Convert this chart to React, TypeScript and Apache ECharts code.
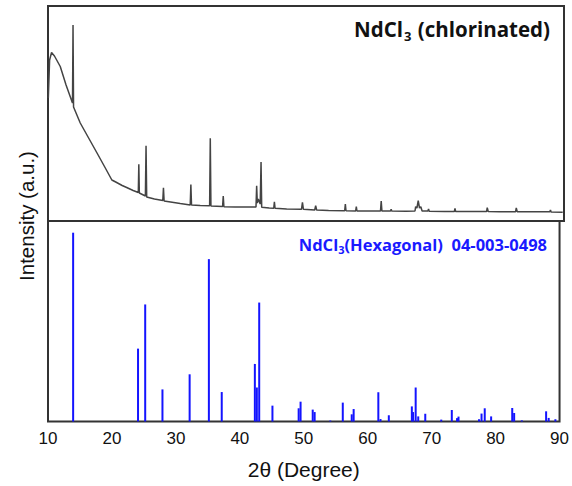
import React, { useEffect, useRef } from "react";
import * as echarts from "echarts";

// Measured XRD pattern of chlorinated NdCl3: [2θ (deg), intensity (a.u.)]
const measuredTheta: number[] = [
  10.05, 10.25, 10.55, 11.0, 11.9, 12.8, 13.8, 13.88, 13.96, 15.0, 16.3, 17.6, 18.8, 19.9,
  20.5, 21.5, 22.2, 23.2, 24.0, 24.08, 24.16, 25.1, 25.2, 25.3, 26.5, 27.8, 27.9, 28.0,
  29.5, 30.5, 32.05, 32.15, 32.25, 33.6, 35.06, 35.16, 35.26, 37.07, 37.17, 37.27, 39.0,
  40.5, 42.25, 42.35, 42.45, 42.6, 42.9, 43.03, 43.13, 44.3, 45.0, 45.1, 45.2, 47.0, 49.3,
  49.45, 49.6, 51.35, 51.5, 51.65, 53.5, 56.0, 56.1, 56.2, 57.7, 57.8, 57.9, 59.5, 61.55,
  61.66, 61.77, 63.1, 63.2, 63.3, 65.5, 66.9, 67.0, 67.2, 67.4, 67.6, 67.8, 68.0, 68.9,
  69.0, 69.1, 71.5, 73.0, 73.1, 73.2, 75.0, 78.0, 78.1, 78.25, 80.0, 82.5, 82.6, 82.75,
  85.0, 87.8, 87.9, 88.0, 89.8,
];
const measuredIntensity: number[] = [
  123, 161, 168.5, 165, 154.5, 136, 118, 196, 114, 98, 83, 68, 54, 41,
  39, 35.5, 33.5, 30.5, 28.5, 56.7, 28, 25, 75.3, 24, 22, 20.5, 33.3, 20,
  18.5, 17.5, 16, 36.5, 16, 15.5, 15.3, 82.7, 15, 14.5, 25, 14.3, 14,
  14, 14, 35.3, 18, 22, 17, 59, 13.7, 13, 12.7, 19.3, 12.7, 12, 11.7,
  18.7, 11.7, 11, 15.3, 11, 10.5, 10.3, 17, 10.3, 10, 14.3, 10, 10, 10,
  20, 10, 10, 11.7, 10, 9.8, 10, 14.3, 13, 20.3, 13, 14.3, 10, 10,
  12, 9.8, 9.5, 9.5, 12.7, 9.5, 9.5, 9.5, 13.3, 9.5, 9.3, 9.3, 13, 9.3,
  9.2, 9.2, 11, 9, 8.7,
];

// Reference pattern NdCl3 (Hexagonal) 04-003-0498: [2θ (deg), relative intensity]
const refTheta: number[] = [
  13.93, 24.08, 25.2, 27.9, 32.15, 35.16, 37.17, 42.35, 42.66, 43.03, 45.1, 49.2, 49.5,
  51.4, 51.7, 54.15, 56.1, 57.5, 57.8, 61.66, 62.0, 63.3, 66.9, 67.1, 67.5, 67.9, 69.0,
  71.5, 73.15, 73.97, 74.2, 77.4, 77.8, 78.3, 79.3, 82.6, 82.9, 84.1, 87.9, 88.3, 89.35,
];
const refIntensity: number[] = [
  100, 38.6, 62, 17, 25, 86, 15.6, 30.5, 18, 63, 8.4, 7, 10.5,
  6.3, 5, 0.5, 10, 3.8, 6.6, 15.5, 1.3, 3.3, 8, 5, 18, 2.7, 4.1,
  1, 6.1, 1.8, 2.6, 1.2, 4.2, 7, 2.7, 7.2, 4.5, 0.6, 5.4, 1.9, 1.2,
];

const xTicks: number[] = [10, 20, 30, 40, 50, 60, 70, 80, 90];

export default function App() {
  const ref = useRef<HTMLDivElement>(null);
  useEffect(() => {
    document.body.style.margin = "0";
    const chart = echarts.init(ref.current!, null, { renderer: "svg" });
    const measured = measuredTheta.map((t, i) => [t, measuredIntensity[i]]);
    const sticks = refTheta.map((t, i) => [t, refIntensity[i]]);
    const gridBorder = { show: true, borderColor: "#333", borderWidth: 2, backgroundColor: "transparent" };
    chart.setOption({
      animation: false,
      backgroundColor: "#fff",
      grid: [
        { left: 48, right: 8, top: 6, height: 215, ...gridBorder },
        { left: 48, right: 8, top: 221, height: 200.5, ...gridBorder },
      ],
      xAxis: [
        { gridIndex: 0, type: "value", min: xTicks[0], max: xTicks[xTicks.length - 1], interval: 10, show: false },
        {
          gridIndex: 1,
          type: "value",
          min: xTicks[0],
          max: xTicks[xTicks.length - 1],
          interval: 10,
          axisLine: { show: false },
          axisTick: { show: false },
          splitLine: { show: false },
          axisLabel: { fontSize: 17, color: "#111", margin: 8, fontFamily: "Liberation Sans" },
          name: "2θ (Degree)",
          nameLocation: "middle",
          nameGap: 37,
          nameTextStyle: { fontSize: 21, color: "#111", fontFamily: "Liberation Sans" },
        },
      ],
      yAxis: [
        { gridIndex: 0, type: "value", min: 0, max: 215, show: false },
        { gridIndex: 1, type: "value", min: 0, max: 106.2, show: false },
      ],
      graphic: [
        {
          type: "text",
          x: 26,
          y: 216,
          rotation: Math.PI / 2,
          style: {
            text: "Intensity (a.u.)",
            fontSize: 20.5,
            fontFamily: "Liberation Sans",
            fill: "#111",
            align: "center",
            verticalAlign: "middle",
          },
        },
        {
          type: "text",
          x: 550,
          y: 29,
          style: {
            text: "{a|NdCl}{s|3}{a| (chlorinated)}",
            align: "right",
            verticalAlign: "middle",
            rich: {
              a: { fontSize: 20.5, lineHeight: 26, fontWeight: "bold", fontFamily: "Open Sans", fill: "#111" },
              s: { fontSize: 13, lineHeight: 14, verticalAlign: "bottom", fontWeight: "bold", fontFamily: "Open Sans", fill: "#111", padding: [0, 1, 0, 1] },
            },
          },
        },
        {
          type: "text",
          x: 547,
          y: 244,
          style: {
            text: "{a|NdCl}{s|3}{a|(Hexagonal)  04-003-0498}",
            align: "right",
            verticalAlign: "middle",
            rich: {
              a: { fontSize: 16.5, lineHeight: 21, fontWeight: "bold", fontFamily: "Open Sans", fill: "#1a1aff" },
              s: { fontSize: 11, lineHeight: 12, verticalAlign: "bottom", fontWeight: "bold", fontFamily: "Open Sans", fill: "#1a1aff" },
            },
          },
        },
      ],
      series: [
        {
          type: "line",
          xAxisIndex: 0,
          yAxisIndex: 0,
          data: measured,
          showSymbol: false,
          lineStyle: { color: "#444", width: 1.5 },
          silent: true,
        },
        {
          type: "custom",
          xAxisIndex: 1,
          yAxisIndex: 1,
          data: sticks,
          silent: true,
          renderItem: (params: any, api: any) => {
            const top = api.coord([api.value(0), api.value(1)]);
            const base = api.coord([api.value(0), 0]);
            return {
              type: "rect",
              shape: { x: top[0] - 1, y: top[1], width: 2, height: base[1] - top[1] },
              style: { fill: "#1414ff" },
            };
          },
        },
      ],
    });
    return () => chart.dispose();
  }, []);
  return <div ref={ref} style={{ width: 572, height: 486 }} />;
}
